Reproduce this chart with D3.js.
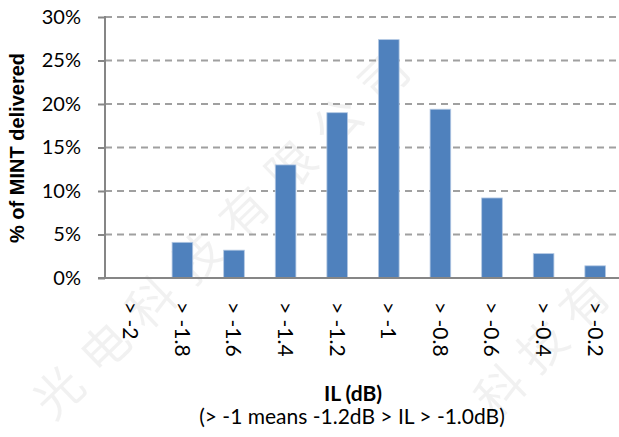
<!DOCTYPE html>
<html>
<head>
<meta charset="utf-8">
<script src="https://cdn.jsdelivr.net/npm/d3@7"></script>
<style>
  html, body { margin: 0; padding: 0; background: #fff; }
  svg { display: block; }
</style>
</head>
<body>
<svg id="chart" width="619" height="437"></svg>
<script>
// ---- data ----
const categories = ["> -2", "> -1.8", "> -1.6", "> -1.4", "> -1.2", "> -1", "> -0.8", "> -0.6", "> -0.4", "> -0.2"];
const values = [0, 4.1, 3.2, 13.0, 19.0, 27.4, 19.4, 9.2, 2.8, 1.4];
const yTicks = [0, 5, 10, 15, 20, 25, 30];
const yTitle = "% of MINT delivered";
const xTitle = "IL (dB)";
const xSubtitle = "(> -1 means -1.2dB > IL > -1.0dB)";
const watermark = ["光", "电", "科", "技", "有", "限", "公", "司"];

(function () {
// ---- layout ----
const svg = d3.select("#chart");
const mLeft = 105, mRight = 621, mTop = 17, mBottom = 278;
const bodyFont = "Lato, 'Open Sans', sans-serif";

const x = d3.scaleBand().domain(categories).range([mLeft, mRight]).paddingInner(0.6).paddingOuter(0.3);
const y = d3.scaleLinear().domain([0, 30]).range([mBottom, mTop]);

// faint watermark (behind)
const wm = svg.append("g").attr("fill", "#000").attr("fill-opacity", 0.055)
  .attr("font-family", "'Noto Sans CJK SC', sans-serif").attr("font-size", 48);
wm.selectAll("text").data(watermark).join("text")
  .attr("text-anchor", "middle").attr("dominant-baseline", "central")
  .attr("transform", (d, i) => `translate(${56 + i * 46.5},${390 - i * 45}) rotate(-44)`)
  .text(d => d);
wm.append("g").selectAll("text").data(watermark.slice(2, 5)).join("text")
  .attr("text-anchor", "middle").attr("dominant-baseline", "central")
  .attr("transform", (d, i) => `translate(${498 + i * 42},${388 - i * 44}) rotate(-44)`)
  .text(d => d);

// gridlines
svg.append("g").selectAll("line").data(yTicks.filter(d => d > 0)).join("line")
  .attr("x1", mLeft).attr("x2", 619)
  .attr("y1", d => y(d)).attr("y2", d => y(d))
  .attr("stroke", "#a0a0a0").attr("stroke-width", 2)
  .attr("stroke-dasharray", "7,5");

// bars
svg.append("g").selectAll("rect").data(values).join("rect")
  .attr("x", (d, i) => x(categories[i]))
  .attr("width", x.bandwidth())
  .attr("y", d => y(d))
  .attr("height", d => y(0) - y(d))
  .attr("fill", "#4f81bd")
  .attr("stroke", "#b3c8e3").attr("stroke-width", 0.8)
  .attr("display", d => d > 0 ? null : "none");

// y axis
const yAxis = d3.axisLeft(y).tickValues(yTicks).tickFormat(d => d + "%").tickSize(7).tickPadding(17);
const gy = svg.append("g").attr("transform", `translate(${mLeft},0)`).call(yAxis);
gy.select(".domain").attr("stroke", "#868686").attr("stroke-width", 2).attr("d", `M0,${mTop - 1}V${mBottom}`);
gy.selectAll(".tick line").attr("stroke", "#868686").attr("stroke-width", 2);
gy.selectAll(".tick text").attr("font-family", bodyFont).attr("font-size", 20).attr("fill", "#000");

// x axis baseline
const xAxis = d3.axisBottom(x).tickSize(0).tickPadding(0);
const gx = svg.append("g").attr("transform", `translate(0,${mBottom})`).call(xAxis);
gx.select(".domain").attr("stroke", "#868686").attr("stroke-width", 2).attr("d", `M${mLeft - 7},0H619`);
gx.selectAll(".tick text")
  .attr("font-family", bodyFont).attr("font-size", 21).attr("fill", "#000")
  .attr("text-anchor", "start")
  .attr("transform", "translate(0,24) rotate(90)")
  .attr("x", 0).attr("y", 0).attr("dy", "0.36em");

// axis titles
svg.append("text")
  .attr("transform", `translate(24,148) rotate(-90)`)
  .attr("text-anchor", "middle")
  .attr("font-family", "'Liberation Sans', Arial, sans-serif")
  .attr("font-weight", "bold").attr("font-size", 20)
  .text(yTitle);

svg.append("text")
  .attr("x", 353).attr("y", 401)
  .attr("text-anchor", "middle")
  .attr("font-family", bodyFont).attr("font-weight", "bold").attr("font-size", 21)
  .text(xTitle);

svg.append("text")
  .attr("x", 352).attr("y", 424)
  .attr("text-anchor", "middle")
  .attr("font-family", bodyFont).attr("font-size", 21)
  .text(xSubtitle);
})();
</script>
</body>
</html>
